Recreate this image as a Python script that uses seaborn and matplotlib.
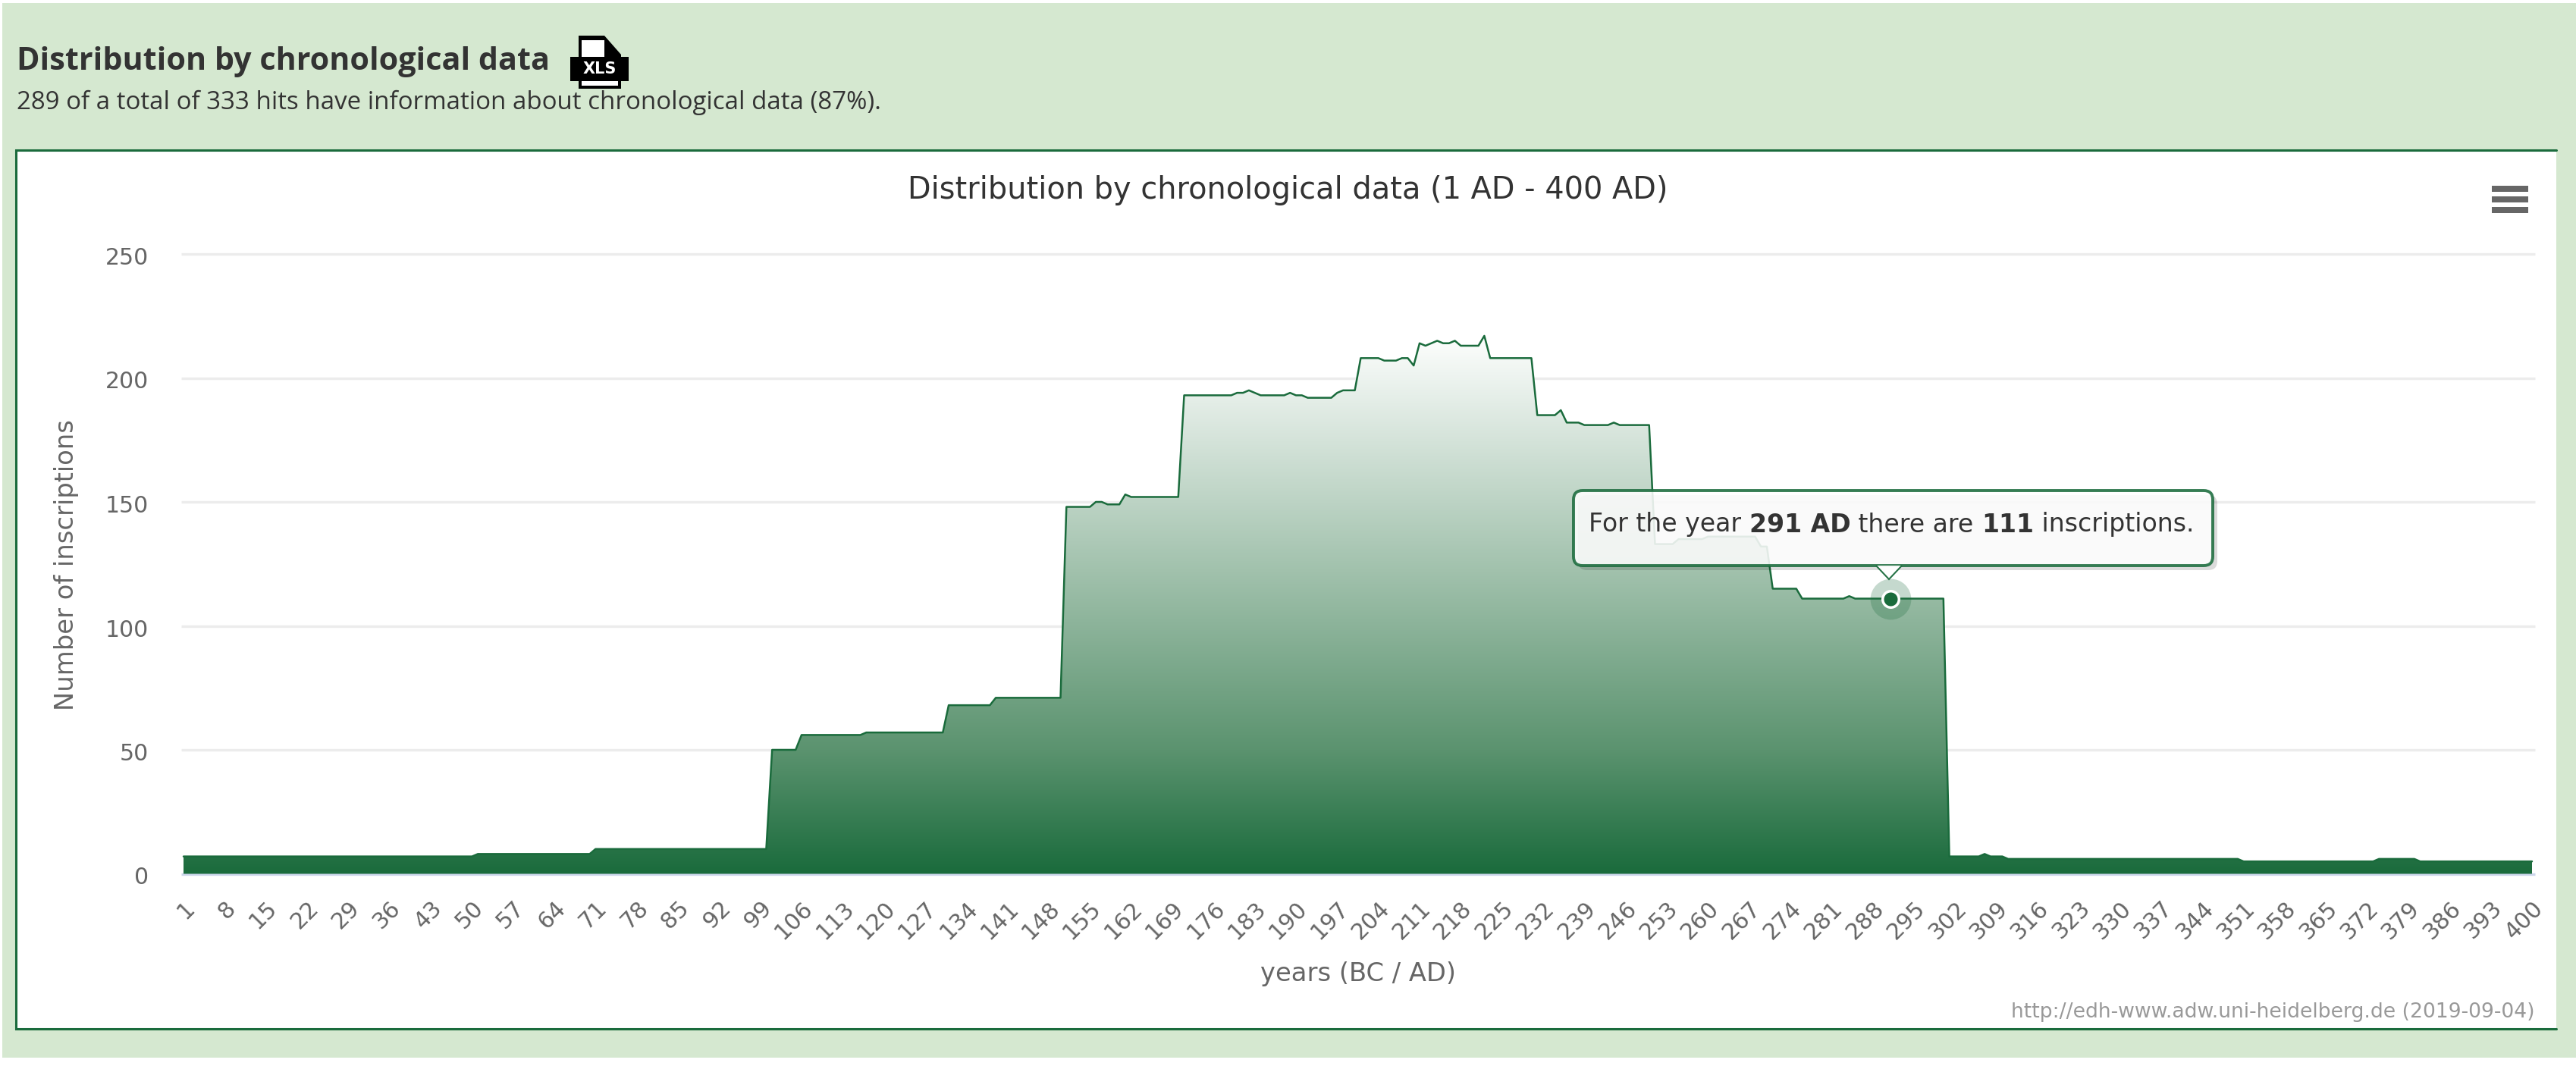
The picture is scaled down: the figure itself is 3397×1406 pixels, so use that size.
import numpy as np
import pandas as pd
import matplotlib
matplotlib.use("Agg")
import matplotlib.pyplot as plt
import seaborn as sns
from matplotlib.colors import LinearSegmentedColormap
from matplotlib.patches import FancyBboxPatch, Polygon, Rectangle
from matplotlib.transforms import ScaledTranslation

# Inscriptions per year, one row per decade
counts = [
    7, 7, 7, 7, 7, 7, 7, 7, 7, 7,                 # 1-10
    7, 7, 7, 7, 7, 7, 7, 7, 7, 7,
    7, 7, 7, 7, 7, 7, 7, 7, 7, 7,
    7, 7, 7, 7, 7, 7, 7, 7, 7, 7,
    7, 7, 7, 7, 7, 7, 7, 7, 7, 7,
    8, 8, 8, 8, 8, 8, 8, 8, 8, 8,                 # 51-60
    8, 8, 8, 8, 8, 8, 8, 8, 8, 8,
    10, 10, 10, 10, 10, 10, 10, 10, 10, 10,
    10, 10, 10, 10, 10, 10, 10, 10, 10, 10,
    10, 10, 10, 10, 10, 10, 10, 10, 10, 10,
    50, 50, 50, 50, 50, 56, 56, 56, 56, 56,       # 101-110
    56, 56, 56, 56, 56, 56, 57, 57, 57, 57,
    57, 57, 57, 57, 57, 57, 57, 57, 57, 57,
    68, 68, 68, 68, 68, 68, 68, 68, 71, 71,
    71, 71, 71, 71, 71, 71, 71, 71, 71, 71,
    148, 148, 148, 148, 148, 150, 150, 149, 149, 149,   # 151-160
    153, 152, 152, 152, 152, 152, 152, 152, 152, 152,
    193, 193, 193, 193, 193, 193, 193, 193, 193, 194,
    194, 195, 194, 193, 193, 193, 193, 193, 194, 193,
    193, 192, 192, 192, 192, 192, 194, 195, 195, 195,
    208, 208, 208, 208, 207, 207, 207, 208, 208, 205,   # 201-210
    214, 213, 214, 215, 214, 214, 215, 213, 213, 213,
    213, 217, 208, 208, 208, 208, 208, 208, 208, 208,
    185, 185, 185, 185, 187, 182, 182, 182, 181, 181,
    181, 181, 181, 182, 181, 181, 181, 181, 181, 181,
    133, 133, 133, 133, 135, 135, 135, 135, 135, 136,   # 251-260
    136, 136, 136, 136, 136, 136, 136, 136, 132, 132,
    115, 115, 115, 115, 115, 111, 111, 111, 111, 111,
    111, 111, 111, 112, 111, 111, 111, 111, 111, 111,
    111, 111, 111, 111, 111, 111, 111, 111, 111, 111,
    7, 7, 7, 7, 7, 7, 8, 7, 7, 7,                 # 301-310
    6, 6, 6, 6, 6, 6, 6, 6, 6, 6,
    6, 6, 6, 6, 6, 6, 6, 6, 6, 6,
    6, 6, 6, 6, 6, 6, 6, 6, 6, 6,
    6, 6, 6, 6, 6, 6, 6, 6, 6, 6,
    5, 5, 5, 5, 5, 5, 5, 5, 5, 5,                 # 351-360
    5, 5, 5, 5, 5, 5, 5, 5, 5, 5,
    5, 5, 5, 6, 6, 6, 6, 6, 6, 6,
    5, 5, 5, 5, 5, 5, 5, 5, 5, 5,
    5, 5, 5, 5, 5, 5, 5, 5, 5, 5,
]
years = list(range(1, 401))
x_ticks = list(range(1, 401, 7))
y_ticks = [0, 50, 100, 150, 200, 250]
hover_year = 291

df = pd.DataFrame({"year": years, "inscriptions": counts})

W, H = 3397, 1406
GREEN = "#1a6b3c"
PANEL_BG = "#d5e8d0"
TEXT = "#666666"

sns.set_theme(style="white")
plt.rcParams["font.family"] = ["DejaVu Sans"]

fig = plt.figure(figsize=(W / 100, H / 100), dpi=100, facecolor="white")

# Page furniture lives on a canvas axes that uses picture pixels
canvas = fig.add_axes([0, 0, 1, 1], zorder=0)
canvas.set_xlim(0, W)
canvas.set_ylim(H, 0)
canvas.axis("off")
canvas.add_patch(Rectangle((3, 4), W - 3, 1391, fc=PANEL_BG, ec="none"))
canvas.add_patch(Rectangle((21, 198), 3350, 1159, fc="white", ec="none"))
canvas.plot([3371, 21, 21, 3371], [198, 198, 1357, 1357], color=GREEN, lw=2.2,
            solid_joinstyle="miter")

canvas.text(22, 81, "Distribution by chronological data", family="Open Sans",
            weight="bold", fontsize=29.7, color="#333333", va="center")
canvas.text(22, 135, "289 of a total of 333 hits have information about chronological data (87%).",
            family="Open Sans", fontsize=23.75, color="#333333", va="center")

# XLS icon
canvas.add_patch(Polygon([(763, 47), (797, 47), (819, 72), (819, 117), (763, 117)],
                         fc="black", ec="none"))
canvas.add_patch(Rectangle((767, 53), 30, 22, fc="white", ec="none"))
canvas.add_patch(Rectangle((767, 107), 48, 6, fc="white", ec="none"))
canvas.add_patch(Rectangle((752, 75), 77, 32, fc="black", ec="none"))
canvas.text(790.5, 91, "XLS", color="white", weight="bold", fontsize=15,
            ha="center", va="center")

# Export menu
for top, bar_h in [(245, 8), (259, 8), (273, 8)]:
    canvas.add_patch(Rectangle((3286, top), 48, bar_h, fc="#666666", ec="none"))

canvas.text(W / 2 + 0, 251, "Distribution by chronological data (1 AD - 400 AD)",
            fontsize=28.75, color="#333333", ha="center", va="center")
canvas.text(3343, 1335, "http://edh-www.adw.uni-heidelberg.de (2019-09-04)",
            fontsize=19.2, color="#999999", ha="right", va="center")

# Plot area, x=1 lands at px 242 and x=400 at px 3339
ax = fig.add_axes([239 / W, 1 - 1152.5 / H, 3104 / W, 817.5 / H], zorder=1)
ax.patch.set_alpha(0)

ax.hlines(y_ticks[1:], 0, 1, transform=ax.get_yaxis_transform(), color="#ececec",
          lw=2.4, zorder=1, clip_on=False)
ax.hlines(0, 0, 1, transform=ax.get_yaxis_transform(), color="#ccd6eb", lw=2.4,
          zorder=1, clip_on=False)

# Area gradient, clipped to the shape under the line
area = ax.fill_between(df["year"], df["inscriptions"], 0, facecolor="none", edgecolor="none")
cmap = LinearSegmentedColormap.from_list(
    "edh", [(0, "#fdfefd"), (0.77, "#5b936f"), (1, GREEN)])
grad = ax.imshow(np.linspace(0, 1, 256).reshape(-1, 1), cmap=cmap, aspect="auto",
                 extent=[1, 400, 0, max(counts)], origin="upper", zorder=2)
grad.set_clip_path(area.get_paths()[0], transform=ax.transData)

sns.lineplot(data=df, x="year", y="inscriptions", color=GREEN, lw=1.8, ax=ax, zorder=3)

ax.set_xlim(0.613, 400.515)
ax.set_ylim(0, 250)
ax.set_xticks(x_ticks)
ax.set_xticklabels(x_ticks, rotation=45, ha="right", rotation_mode="anchor",
                   fontsize=21.5, color=TEXT)
ax.set_yticks(y_ticks)
ax.set_yticklabels(y_ticks, fontsize=21.5, color=TEXT)
ax.tick_params(axis="x", length=0, pad=22)
ax.tick_params(axis="y", length=0, pad=31)
# y labels sit a touch below their gridlines in the original
for lab in ax.get_yticklabels():
    lab.set_transform(lab.get_transform() + ScaledTranslation(0, -0.025, fig.dpi_scale_trans))
ax.set_xlabel("years (BC / AD)", fontsize=24.3, color=TEXT)
ax.set_ylabel("Number of inscriptions", fontsize=24.3, color=TEXT)
ax.xaxis.set_label_coords(0.5, -(1268 - 1152.5) / 817.5)
ax.yaxis.set_label_coords((104 - 239) / 3104, 0.5 - (745 - 743.75) / 817.5)
sns.despine(ax=ax, left=True, bottom=True)

# Hovered point
hover_count = counts[years.index(hover_year)]
ax.scatter([hover_year], [hover_count], s=1500, color=GREEN, alpha=0.25, lw=0, zorder=4)
ax.scatter([hover_year], [hover_count], s=240, color=GREEN, edgecolor="white", lw=2.5, zorder=5)

# Tooltip on top of everything
top_ax = fig.add_axes([0, 0, 1, 1], zorder=2)
top_ax.set_xlim(0, W)
top_ax.set_ylim(H, 0)
top_ax.axis("off")
box = dict(boxstyle="round,pad=0,rounding_size=12")
top_ax.add_patch(FancyBboxPatch((2081, 653), 843, 99, fc="black", alpha=0.14, ec="none", **box))
top_ax.add_patch(FancyBboxPatch((2075, 647), 843, 99, fc="white", alpha=0.88, ec=GREEN, lw=2.8, **box))
top_ax.add_patch(Polygon([(2474, 746), (2491, 764), (2508, 746)], fc="white", ec=GREEN, lw=1.5,
                         closed=False, alpha=0.95))

fig.canvas.draw()
renderer = fig.canvas.get_renderer()
cursor = 2095
for piece, weight in [("For the year ", "normal"), ("291 AD", "bold"), (" there are ", "normal"),
                      ("111", "bold"), (" inscriptions.", "normal")]:
    t = top_ax.text(cursor, 692, piece.replace(" ", "\u00a0"), fontsize=23.9, weight=weight,
                    color="#333333", va="center")
    cursor = top_ax.transData.inverted().transform(t.get_window_extent(renderer))[1, 0]

fig.savefig("out.png", dpi=100)
